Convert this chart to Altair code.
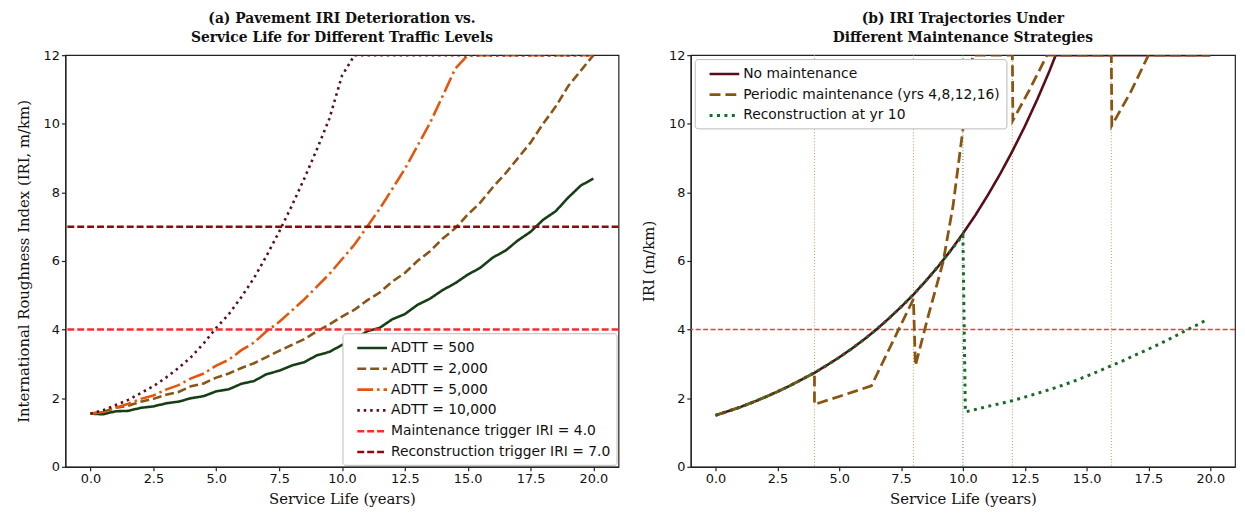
import altair as alt
import pandas as pd

# ---------------- data ----------------
years = [0, 0.5, 1, 1.5, 2, 2.5, 3, 3.5, 4, 4.5, 5, 5.5, 6, 6.5, 7, 7.5, 8, 8.5, 9, 9.5,
         10, 10.5, 11, 11.5, 12, 12.5, 13, 13.5, 14, 14.5, 15, 15.5, 16, 16.5, 17, 17.5,
         18, 18.5, 19, 19.5, 20]

adtt_500 = [1.55, 1.53, 1.62, 1.63, 1.72, 1.76, 1.85, 1.9, 2.0, 2.06, 2.2, 2.26, 2.42, 2.5,
            2.7, 2.8, 2.95, 3.05, 3.25, 3.35, 3.55, 3.72, 3.95, 4.05, 4.3, 4.45, 4.72, 4.9,
            5.15, 5.35, 5.6, 5.8, 6.1, 6.3, 6.6, 6.85, 7.2, 7.45, 7.85, 8.2, 8.4]
adtt_2000 = [1.55, 1.6, 1.72, 1.78, 1.9, 1.98, 2.1, 2.18, 2.35, 2.43, 2.6, 2.72, 2.88, 3.02,
             3.2, 3.38, 3.55, 3.72, 3.95, 4.15, 4.38, 4.58, 4.85, 5.08, 5.4, 5.65, 6.0, 6.28,
             6.65, 6.95, 7.35, 7.7, 8.15, 8.55, 9.0, 9.45, 10.0, 10.5, 11.1, 11.55, 12.0]
adtt_5000 = [1.55, 1.6, 1.72, 1.84, 1.98, 2.08, 2.25, 2.38, 2.58, 2.72, 2.95, 3.12, 3.4, 3.62,
             3.95, 4.22, 4.55, 4.88, 5.25, 5.62, 6.05, 6.48, 7.0, 7.52, 8.1, 8.68, 9.35, 10.02,
             10.8, 11.6, 12, 12, 12, 12, 12, 12, 12, 12, 12, 12, 12]
adtt_10000 = [1.55, 1.65, 1.8, 1.95, 2.15, 2.35, 2.6, 2.88, 3.2, 3.6, 4.05, 4.45, 4.95, 5.5,
              6.15, 6.85, 7.6, 8.4, 9.25, 10.15, 11.4, 12, 12, 12, 12, 12, 12, 12, 12, 12,
              12, 12, 12, 12, 12, 12, 12, 12, 12, 12, 12]

maintenance_trigger = 4.0
reconstruction_trigger = 7.0

left_names = ["ADTT = 500", "ADTT = 2,000", "ADTT = 5,000", "ADTT = 10,000",
              "Maintenance trigger IRI = 4.0", "Reconstruction trigger IRI = 7.0"]
left_colors = ["#173f16", "#8a5515", "#e5560c", "#571020", "#ff2b2b", "#8b0a0a"]
left_dashes = [[1, 0], [9, 4], [16, 4, 2.5, 4], [2.5, 4], [7, 3], [7, 3]]
left_widths = [2.6, 2.6, 2.6, 2.6, 2.0, 2.0]

# right panel
nm_years = [0, 0.5, 1, 1.5, 2, 2.5, 3, 3.5, 4, 4.5, 5, 5.5, 6, 6.5, 7, 7.5, 8, 8.5, 9, 9.5,
            10, 10.5, 11, 11.5, 12, 12.5, 13, 13.5, 13.75, 14, 16, 18, 20]
nm_vals = [1.5, 1.62, 1.74, 1.88, 2.03, 2.19, 2.36, 2.55, 2.74, 2.96, 3.19, 3.44, 3.71, 4.0,
           4.32, 4.66, 5.02, 5.42, 5.84, 6.3, 6.8, 7.33, 7.91, 8.53, 9.2, 9.92, 10.7, 11.54,
           12, 12, 12, 12, 12]

pm_years = [0, 0.5, 1, 1.5, 2, 2.5, 3, 3.5, 4, 4, 5, 6.3, 8, 8.08, 8.6, 9.2, 9.6, 10, 10.4,
            12, 12.02, 12.7, 13.4, 16, 16.02, 16.8, 17.5, 20]
pm_vals = [1.5, 1.62, 1.74, 1.88, 2.03, 2.19, 2.36, 2.55, 2.74, 1.82, 2.05, 2.36, 4.89, 2.95,
           4.4, 5.97, 7.6, 9.83, 12, 12, 10.1, 11.0, 12, 12, 9.95, 10.95, 12, 12]

rc_years = [0, 0.5, 1, 1.5, 2, 2.5, 3, 3.5, 4, 4.5, 5, 5.5, 6, 6.5, 7, 7.5, 8, 8.5, 9, 9.5, 10,
            10.1, 10.5, 11, 11.5, 12, 12.5, 13, 13.5, 14, 14.5, 15, 15.5, 16, 16.5, 17, 17.5,
            18, 18.5, 19, 19.5, 19.9]
rc_vals = [1.5, 1.62, 1.74, 1.88, 2.03, 2.19, 2.36, 2.55, 2.74, 2.96, 3.19, 3.44, 3.71, 4.0,
           4.32, 4.66, 5.02, 5.42, 5.84, 6.3, 6.75,
           1.6, 1.67, 1.76, 1.84, 1.93, 2.03, 2.14, 2.25, 2.37, 2.5, 2.64, 2.79, 2.95, 3.1,
           3.27, 3.43, 3.6, 3.78, 3.97, 4.15, 4.3]

maintenance_years = [4, 8, 12, 16]
reconstruction_year = [10]

right_names = ["No maintenance", "Periodic maintenance (yrs 4,8,12,16)", "Reconstruction at yr 10"]
right_colors = ["#5a0d16", "#8a5510", "#1c6a2a"]
right_dashes = [[1, 0], [11, 5], [3, 4.5]]
right_widths = [2.6, 3.0, 3.0]

x_ticks = [0, 2.5, 5, 7.5, 10, 12.5, 15, 17.5, 20]
y_ticks = [0, 2, 4, 6, 8, 10, 12]

# ---------------- tables ----------------
rows = []
for name, vals in zip(left_names[:4], [adtt_500, adtt_2000, adtt_5000, adtt_10000]):
    for i, (t, v) in enumerate(zip(years, vals)):
        rows.append({"series": name, "t": t, "v": v, "idx": i})
left_df = pd.DataFrame(rows)
rules_df = pd.DataFrame({"series": left_names[4:], "v": [maintenance_trigger, reconstruction_trigger]})

rows = []
for name, ys, vs in zip(right_names, [nm_years, pm_years, rc_years], [nm_vals, pm_vals, rc_vals]):
    for i, (t, v) in enumerate(zip(ys, vs)):
        rows.append({"series": name, "t": t, "v": v, "idx": i})
right_df = pd.DataFrame(rows)
vm_df = pd.DataFrame({"t": maintenance_years})
vr_df = pd.DataFrame({"t": reconstruction_year})
red_df = pd.DataFrame({"v": [maintenance_trigger]})

# ---------------- encodings ----------------
def xenc():
    return alt.X("t:Q", scale=alt.Scale(domain=[-1, 21], nice=False, zero=False),
                 axis=alt.Axis(values=x_ticks, format=".1f", title="Service Life (years)"))

def yenc(title):
    return alt.Y("v:Q", scale=alt.Scale(domain=[0, 12], nice=False),
                 axis=alt.Axis(values=y_ticks, format="d", title=title))

def legend(orient, offset):
    return alt.Legend(orient=orient, title=None, symbolType="M-2,0L2,0", symbolSize=225,
                      symbolStrokeWidth=2.8, symbolOffset=15,
                      labelFont="DejaVu Sans", labelFontSize=14,
                      labelColor="#111", labelOffset=10, fillColor="white",
                      strokeColor="#bbbbbb", padding=6, rowPadding=5, offset=offset,
                      cornerRadius=3, labelLimit=400)

lc = alt.Color("series:N", scale=alt.Scale(domain=left_names, range=left_colors),
               legend=legend("bottom-right", 2))
ld = alt.StrokeDash("series:N", scale=alt.Scale(domain=left_names, range=left_dashes),
                    legend=legend("bottom-right", 2))
lw = alt.StrokeWidth("series:N", scale=alt.Scale(domain=left_names, range=left_widths), legend=None)

left_lines = alt.Chart(left_df).mark_line(clip=True).encode(
    x=xenc(), y=yenc("International Roughness Index (IRI, m/km)"),
    color=lc, strokeDash=ld, strokeWidth=lw, order="idx:Q")
left_rules = alt.Chart(rules_df).mark_rule().encode(
    y="v:Q", color=lc, strokeDash=ld, strokeWidth=lw)

left = alt.layer(left_lines, left_rules).properties(
    width=559, height=416,
    title=alt.Title(["(a) Pavement IRI Deterioration vs.",
                     "Service Life for Different Traffic Levels"], lineHeight=20))

rc = alt.Color("series:N", scale=alt.Scale(domain=right_names, range=right_colors),
               legend=legend("top-left", 4))
rd = alt.StrokeDash("series:N", scale=alt.Scale(domain=right_names, range=right_dashes),
                    legend=legend("top-left", 4))
rw = alt.StrokeWidth("series:N", scale=alt.Scale(domain=right_names, range=right_widths), legend=None)

vm = alt.Chart(vm_df).mark_rule(color="#c49a55", strokeDash=[1, 2], strokeWidth=1.1, opacity=0.9).encode(x="t:Q")
vr = alt.Chart(vr_df).mark_rule(color="#3f8f4f", strokeDash=[1, 2], strokeWidth=1.1, opacity=0.9).encode(x="t:Q")
red = alt.Chart(red_df).mark_rule(color="#ff3535", strokeDash=[5, 2.5], strokeWidth=1.5).encode(y="v:Q")
right_lines = alt.Chart(right_df).mark_line(clip=True).encode(
    x=xenc(), y=yenc("IRI (m/km)"), color=rc, strokeDash=rd, strokeWidth=rw, order="idx:Q")

right = alt.layer(vm, vr, red, right_lines).properties(
    width=550, height=416,
    title=alt.Title(["(b) IRI Trajectories Under",
                     "Different Maintenance Strategies"], lineHeight=20))

chart = alt.hconcat(left, right, spacing=20).resolve_scale(
    color="independent", strokeDash="independent", strokeWidth="independent"
).resolve_legend(
    color="independent", strokeDash="independent", strokeWidth="independent"
).properties(
    padding={"left": 7, "top": 0, "right": 0, "bottom": 0}
).configure_view(
    stroke="#222", strokeWidth=1.2
).configure_axis(
    labelFont="DejaVu Sans", labelFontSize=13, labelColor="#111",
    titleFont="DejaVu Serif", titleFontSize=15, titleFontWeight="normal", titleColor="#111",
    domainColor="#222", tickColor="#222", domainWidth=1.2, tickWidth=1.2, tickSize=4,
    labelPadding=2, grid=False
).configure_axisX(titlePadding=6).configure_axisY(titlePadding=12).configure_title(
    font="DejaVu Serif", fontSize=14, fontWeight="bold", anchor="middle", offset=4, color="#111"
)

chart.save("out.html", embed_options={"renderer": "svg", "actions": False})
